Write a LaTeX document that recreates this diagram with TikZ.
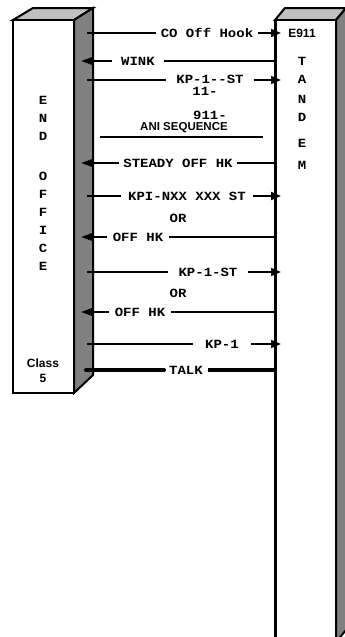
\documentclass[tikz,border=0pt]{standalone}
\usepackage{fontspec}
\setmainfont{Liberation Sans}
\newfontfamily\monof{Liberation Mono}[FakeStretch=1.12]
\usetikzlibrary{arrows.meta}
\definecolor{sidegray}{HTML}{808080}
\definecolor{topgray}{HTML}{C0C0C0}
\begin{document}
\begin{tikzpicture}[x=1pt,y=-1pt,
  boxline/.style={line width=2pt,line join=miter},
  msg/.style={line width=2pt},
  talk/.style={line width=4pt},
  arr/.style={-{Triangle[length=10pt,width=8pt]}},
  larr/.style={-{Triangle[length=12pt,width=8pt]}},
  lbl/.style={font=\monof\bfseries\fontsize{12.5}{14}\selectfont,inner xsep=5pt,inner ysep=1pt},
  txt/.style={font=\monof\bfseries\fontsize{12.5}{14}\selectfont,inner sep=0pt},
  stxt/.style={font=\bfseries\fontsize{12}{13}\selectfont,inner sep=0pt},
  vtxt/.style={font=\monof\bfseries\fontsize{12.5}{18}\selectfont,inner sep=0pt,align=center}]
\useasboundingbox (0,0) rectangle (345,637);
% End office box
\filldraw[boxline,fill=topgray] (13,20) -- (33,8) -- (93,8) -- (74,20) -- cycle;
\filldraw[boxline,fill=sidegray] (74,20) -- (93,8) -- (93,375) -- (74,393) -- cycle;
\filldraw[boxline,fill=white] (13,20) rectangle (74,393);
% Tandem box
\filldraw[boxline,fill=topgray] (275,20) -- (285,8) -- (346,8) -- (336,20) -- cycle;
\filldraw[boxline,fill=sidegray] (336,20) -- (346,8) -- (346,630) -- (336,642) -- cycle;
\filldraw[boxline,fill=white] (275,20) rectangle (336,642);
\draw[line width=3pt] (275,19) -- (275,642);
% box texts
\node[vtxt] (end) at (43,118) {E\\N\\D};
\node[vtxt] (office) at (43,221) {O\\F\\F\\I\\C\\E};
\node[stxt,align=center] (class) at (43,371) {Class\\[2pt]5};
\node[stxt] (e911) at (302,33) {E911};
\node[txt] (tT) at (302,61) {T};
\node[txt] (tA) at (302,79) {A};
\node[txt] (tN) at (302,99) {N};
\node[txt] (tD) at (302,117) {D};
\node[txt] (tE) at (302,143) {E};
\node[txt] (tM) at (302,165) {M};
% 1 CO Off Hook ->
\coordinate (L1) at (87,33); \coordinate (R1) at (281,33);
\node[lbl] (m1) at (207,33) {CO Off Hook};
\draw[msg] (L1) -- (m1); \draw[msg,arr] (m1) -- (R1);
% 2 WINK <-
\coordinate (L2) at (81,61); \coordinate (R2) at (275,61);
\node[lbl,inner xsep=9pt] (m2) at (138,61) {WINK};
\draw[msg,larr] (m2) -- (L2); \draw[msg] (R2) -- (m2);
% 3 KP-1--ST ->
\coordinate (L3) at (87,80); \coordinate (R3) at (281,80);
\node[lbl,inner xsep=10pt,inner ysep=0pt] (m3) at (210,79.5) {KP-1--ST};
\draw[msg] (L3) -- (L3 -| m3.west); \draw[msg,arr] (R3 -| m3.east) -- (R3);
\node[txt] (n11) at (205,91.5) {11-};
\node[txt] (n911) at (210,115) {911-};
\node[stxt,font=\bfseries\fontsize{11.5}{12}\selectfont] (ani) at (184,128) {ANI SEQUENCE};
\coordinate (u1) at (100,137); \coordinate (u2) at (263,137);
\draw[line width=1.2pt] (u1) -- (u2);
% 7 STEADY OFF HK <-
\coordinate (L7) at (81,163); \coordinate (R7) at (275,163);
\node[lbl,inner xsep=4pt] (m7) at (178,163) {STEADY OFF HK};
\draw[msg,larr] (m7) -- (L7); \draw[msg] (R7) -- (m7);
% 8 KPI-NXX XXX ST ->
\coordinate (L8) at (87,196); \coordinate (R8) at (281,196);
\node[lbl,inner xsep=7pt] (m8) at (187,196) {KPI-NXX XXX ST};
\draw[msg] (L8) -- (m8); \draw[msg,arr] (m8) -- (R8);
\node[txt] (or1) at (178,218) {OR};
% 10 OFF HK <-
\coordinate (L10) at (81,237); \coordinate (R10) at (275,237);
\node[lbl,inner xsep=6pt] (m10) at (138,237) {OFF HK};
\draw[msg,larr] (m10) -- (L10); \draw[msg] (R10) -- (m10);
% 11 KP-1-ST ->
\coordinate (L11) at (87,272); \coordinate (R11) at (281,272);
\node[lbl,inner xsep=10pt] (m11) at (208,272) {KP-1-ST};
\draw[msg] (L11) -- (m11); \draw[msg,arr] (m11) -- (R11);
\node[txt] (or2) at (178,293) {OR};
% 13 OFF HK <-
\coordinate (L13) at (81,312); \coordinate (R13) at (275,312);
\node[lbl,inner xsep=6pt] (m13) at (140,312) {OFF HK};
\draw[msg,larr] (m13) -- (L13); \draw[msg] (R13) -- (m13);
% 14 KP-1 ->
\coordinate (L14) at (87,344); \coordinate (R14) at (281,344);
\node[lbl,inner xsep=12pt] (m14) at (222,344) {KP-1};
\draw[msg] (L14) -- (m14); \draw[msg,arr] (m14) -- (R14);
% 15 TALK
\coordinate (L15) at (86,370); \coordinate (R15) at (275,370);
\node[lbl,inner xsep=5pt] (m15) at (186,370) {TALK};
\draw[talk,line cap=round] (L15) -- (m15); \draw[talk] (m15) -- (R15);
\end{tikzpicture}
\end{document}
